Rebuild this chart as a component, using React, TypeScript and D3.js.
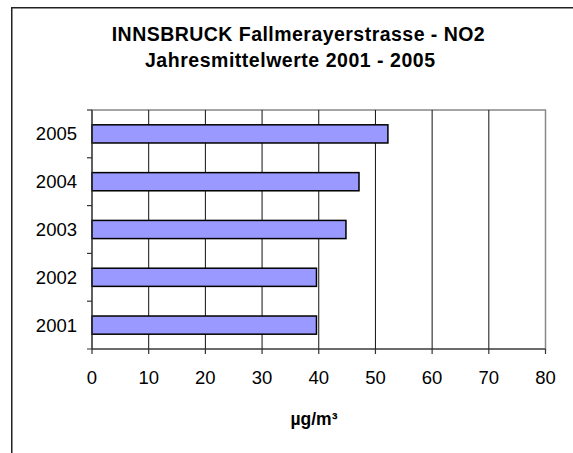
import React from "react";
import * as d3 from "d3";

const categories = ["2001", "2002", "2003", "2004", "2005"];
const values = [39.6, 39.6, 44.8, 47.1, 52.2];
const xTicks = [0, 10, 20, 30, 40, 50, 60, 70, 80];
const titleLines = ["INNSBRUCK Fallmerayerstrasse - NO2", "Jahresmittelwerte 2001 - 2005"];
const axisTitle = "µg/m³";

const W = 573;
const H = 453;
const plot = { left: 92, right: 545.5, top: 110, bottom: 349 };
const font = "'Liberation Sans', Arial, sans-serif";

export default function App() {
  const x = d3.scaleLinear().domain([0, 80]).range([plot.left, plot.right]);
  const y = d3
    .scaleBand<string>()
    .domain([...categories].reverse())
    .range([plot.top, plot.bottom])
    .paddingInner(0.62)
    .paddingOuter(0.31);
  const yb = d3.scaleBand<string>().domain([...categories].reverse()).range([plot.top, plot.bottom]);
  const boundaries = yb.domain().slice(1).map((c) => yb(c) as number);

  return (
    <svg
      width={W}
      height={H}
      style={{ position: "absolute", left: 0, top: 0, background: "#fff" }}
      fontFamily={font}
    >
      <rect x={0} y={0} width={W} height={H} fill="#fff" />
      <rect x={11.75} y={7.75} width={W + 20} height={H + 20} fill="none" stroke="#222" strokeWidth={1.5} />
      <text x={111.7} y={40.7} fontSize={19.5} fontWeight="bold" textLength={373} lengthAdjust="spacing">
        {titleLines[0]}
      </text>
      <text x={145} y={66.7} fontSize={19.5} fontWeight="bold" textLength={290} lengthAdjust="spacing">
        {titleLines[1]}
      </text>
      {/* plot border */}
      <rect
        x={plot.left}
        y={plot.top}
        width={plot.right - plot.left}
        height={plot.bottom - plot.top}
        fill="#fff"
        stroke="#888"
        strokeWidth={1.5}
      />
      {/* grid lines */}
      {xTicks.slice(1, -1).map((t) => (
        <line key={t} x1={x(t)} x2={x(t)} y1={plot.top} y2={plot.bottom} stroke="#111" strokeWidth={1} />
      ))}
      {/* bars */}
      {categories.map((c, i) => (
        <rect
          key={c}
          x={x(0)}
          y={y(c)}
          width={x(values[i]) - x(0)}
          height={y.bandwidth()}
          fill="#9999ff"
          stroke="#000"
          strokeWidth={1.5}
        />
      ))}
      {/* axes */}
      <line x1={plot.left} x2={plot.left} y1={plot.top} y2={plot.bottom} stroke="#333" strokeWidth={1.2} />
      <line x1={plot.left - 5} x2={plot.right} y1={plot.bottom} y2={plot.bottom} stroke="#333" strokeWidth={1.2} />
      {[plot.top, ...boundaries].map((b, i) => (
        <line key={i} x1={plot.left - 5} x2={plot.left} y1={b} y2={b} stroke="#333" strokeWidth={1.2} />
      ))}
      {xTicks.map((t) => (
        <g key={t}>
          <line x1={x(t)} x2={x(t)} y1={plot.bottom} y2={plot.bottom + 5} stroke="#333" strokeWidth={1.2} />
          <text x={x(t)} y={384} textAnchor="middle" fontSize={18.5} fill="#000">
            {t}
          </text>
        </g>
      ))}
      {categories.map((c) => (
        <text
          key={c}
          x={77}
          y={(yb(c) as number) + yb.bandwidth() / 2 + 6.5}
          textAnchor="end"
          fontSize={18.5}
          fill="#000"
        >
          {c}
        </text>
      ))}
      <text x={314} y={425} textAnchor="middle" fontSize={17.5} fontWeight="bold" fill="#000">
        {axisTitle}
      </text>
    </svg>
  );
}
